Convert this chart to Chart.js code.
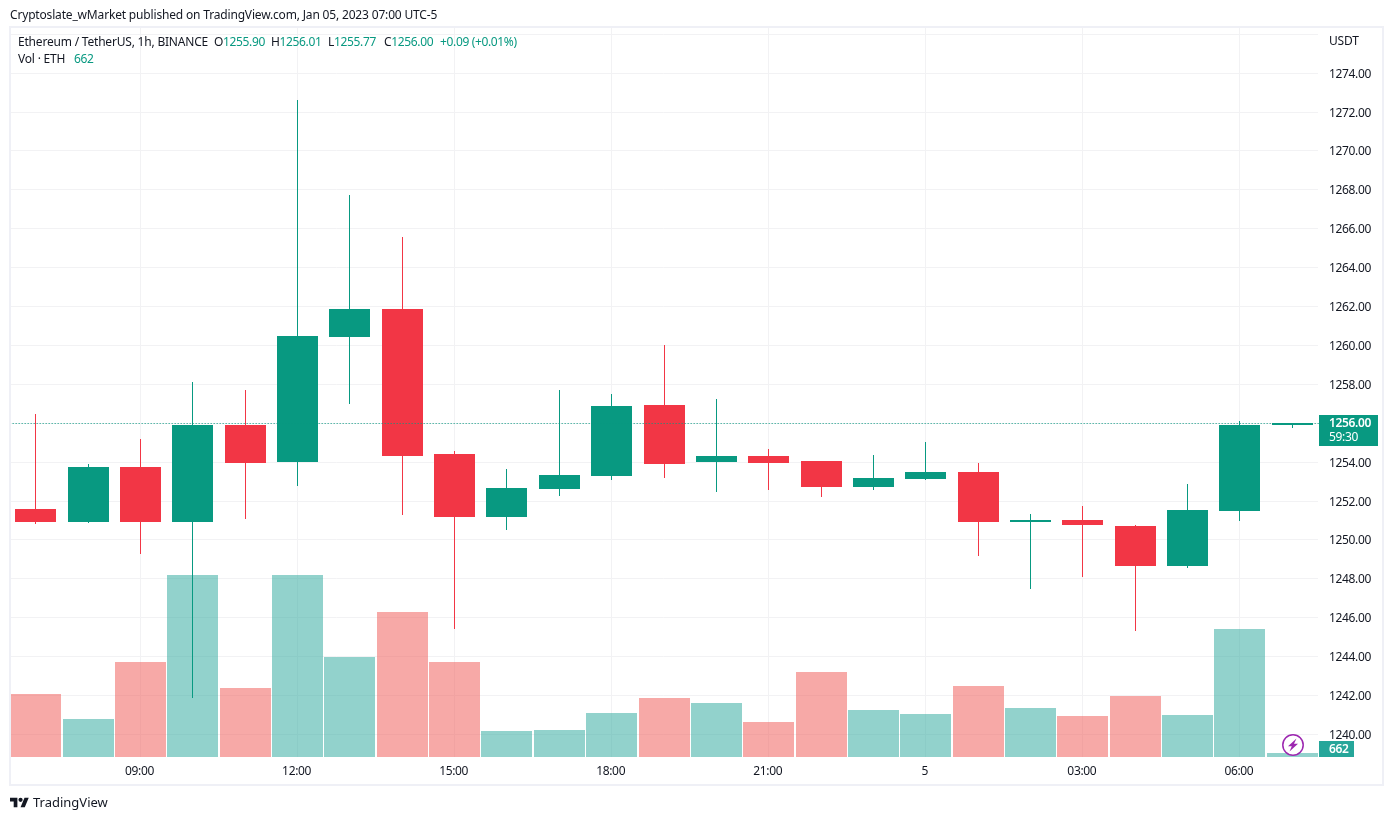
<!DOCTYPE html>
<html>
<head>
<meta charset="utf-8">
<title>ETHUSDT 1h</title>
<script src="https://cdn.jsdelivr.net/npm/chart.js@4"></script>
<style>
  html, body { margin: 0; padding: 0; background: #fff; }
  body { width: 1393px; height: 820px; position: relative; overflow: hidden;
         font-family: "Noto Sans", sans-serif; font-size: 12px; color: #131722; }
  canvas { position: absolute; left: 0; top: 0; }
  .txt { position: absolute; white-space: nowrap; line-height: 16px; letter-spacing: -0.2px; }
  .num { letter-spacing: -0.35px; }
  .val { color: #089981; }
  #frame { position: absolute; left: 9px; top: 26px; width: 1371px; height: 756px;
           border: 2px solid #eff0f6; pointer-events: none; }
</style>
</head>
<body>
<canvas id="chart" width="1393" height="820"></canvas>
<div id="frame"></div>
<div class="txt" style="left:10px;top:7px;letter-spacing:-0.17px">Cryptoslate_wMarket published on TradingView.com, Jan 05, 2023 07:00 UTC-5</div>
<div class="txt" style="left:18px;top:34px">Ethereum / TetherUS, 1h, BINANCE</div>
<div class="txt num" style="left:214px;top:34px">O<span class="val">1255.90</span></div>
<div class="txt num" style="left:271px;top:34px">H<span class="val">1256.01</span></div>
<div class="txt num" style="left:328px;top:34px">L<span class="val">1255.77</span></div>
<div class="txt num" style="left:384px;top:34px">C<span class="val">1256.00</span></div>
<div class="txt num val" style="left:440px;top:34px">+0.09 (+0.01%)</div>
<div class="txt" style="left:18px;top:51px">Vol · ETH</div>
<div class="txt num val" style="left:74px;top:51px">662</div>
<div class="txt" style="left:1329px;top:33px">USDT</div>
<svg style="position:absolute;left:10px;top:797px" width="19" height="11" viewBox="0 3.5 36 19"><path fill="#131722" d="M14 22H7V11H0V4h14v18zM28 22h-8l7.5-18h8L28 22z"/><circle fill="#131722" cx="20" cy="8" r="4"/></svg>
<div class="txt" style="left:33px;top:794px;font-size:13px;letter-spacing:0">TradingView</div>
<svg style="position:absolute;left:1281px;top:733px" width="24" height="24" viewBox="0 0 24 24"><circle cx="12" cy="12" r="10.2" fill="#fff" stroke="#9c27b0" stroke-width="1.5"/><path fill="#9c27b0" d="M15.5 5.5 7 13.2h3.8l-2.3 5.3L17 10.8h-4z"/></svg>

<script>
  const categories = ["07:00", "08:00", "09:00", "10:00", "11:00", "12:00", "13:00", "14:00", "15:00", "16:00", "17:00", "18:00", "19:00", "20:00", "21:00", "22:00", "23:00", "5", "01:00", "02:00", "03:00", "04:00", "05:00", "06:00", "07:00 "];
  const xTickLabels = ["09:00", "12:00", "15:00", "18:00", "21:00", "5", "03:00", "06:00"];

  const opens = [1251.6, 1250.9, 1253.75, 1250.9, 1255.9, 1254.0, 1260.45, 1261.9, 1254.4, 1251.2, 1252.6, 1253.3, 1256.95, 1254.0, 1254.3, 1254.05, 1252.7, 1253.15, 1253.5, 1250.95, 1251.05, 1250.7, 1248.65, 1251.5, 1255.9];
  const highs = [1256.5, 1253.9, 1255.2, 1258.1, 1257.7, 1272.6, 1267.75, 1265.6, 1254.6, 1253.65, 1257.7, 1257.5, 1260.0, 1257.25, 1254.7, 1254.05, 1254.35, 1255.05, 1253.95, 1251.35, 1251.75, 1250.75, 1252.9, 1256.1, 1256.01];
  const lows = [1250.8, 1250.85, 1249.3, 1241.9, 1251.1, 1252.8, 1257.0, 1251.3, 1245.4, 1250.5, 1252.25, 1253.1, 1253.2, 1252.45, 1252.55, 1252.2, 1252.55, 1253.1, 1249.2, 1247.5, 1248.1, 1245.3, 1248.55, 1251.0, 1255.77];
  const closes = [1250.9, 1253.75, 1250.9, 1255.9, 1253.95, 1260.5, 1261.9, 1254.3, 1251.2, 1252.65, 1253.35, 1256.9, 1253.9, 1254.3, 1253.95, 1252.7, 1253.2, 1253.5, 1250.9, 1251.05, 1250.75, 1248.65, 1251.55, 1255.9, 1256.0];
  const volumes = [10400, 6270, 15700, 30000, 11400, 30000, 16500, 23900, 15700, 4300, 4450, 7260, 9700, 8900, 5780, 14000, 7750, 7100, 11700, 8100, 6770, 10060, 6930, 21100, 662];

  const countdown = "59:30";
  const UP = "#089981";
  const DOWN = "#f23645";
  const GRID = "#f2f2f4";
  const FONT = '"Noto Sans", sans-serif';

  const isUp = (i) => closes[i] >= opens[i];

  // snap the bars to whole pixels, otherwise 1px wicks come out blurry
  const snapBars = {
    id: "snapBars",
    beforeDraw(chart) {
      chart.ctx.letterSpacing = "-0.35px"; // the tick font runs a bit wide
    },
    beforeDatasetsDraw(chart) {
      chart.getSortedVisibleDatasetMetas().forEach((meta) => {
        meta.data.forEach((el) => {
          const l = Math.round(el.x - el.width / 2);
          const r = Math.round(el.x + el.width / 2);
          el.x = (l + r) / 2;
          el.width = Math.max(r - l, 1);
          el.y = Math.round(el.y);
          el.base = Math.round(el.base);
        });
      });
    },
  };

  // last price line and the two labels on the right
  const lastPrice = {
    id: "lastPrice",
    afterDraw(chart) {
      const { ctx, chartArea } = chart;
      const n = closes.length - 1;
      const y = Math.round(chart.scales.y.getPixelForValue(closes[n]));

      ctx.save();
      ctx.strokeStyle = UP;
      ctx.setLineDash([1, 2]);
      ctx.beginPath();
      ctx.moveTo(chartArea.left, y + 0.5);
      ctx.lineTo(1319, y + 0.5);
      ctx.stroke();
      ctx.setLineDash([]);

      ctx.fillStyle = UP;
      ctx.fillRect(1319, 415, 59, 31);
      ctx.fillStyle = "#fff";
      ctx.font = "600 12px " + FONT;
      ctx.textBaseline = "middle";
      ctx.fillText(closes[n].toFixed(2), 1329, 424);
      ctx.font = "12px " + FONT;
      ctx.fillText(countdown, 1329, 438);

      ctx.fillStyle = "#26a69a";
      ctx.fillRect(1319, 741, 35, 16);
      ctx.fillStyle = "#fff";
      ctx.font = "600 12px " + FONT;
      ctx.fillText(String(volumes[n]), 1329, 750);
      ctx.restore();
    },
  };

  new Chart(document.getElementById("chart"), {
    type: "bar",
    plugins: [snapBars, lastPrice],
    data: {
      labels: categories,
      datasets: [
        {
          label: "Body",
          data: opens.map((o, i) => [o, closes[i]]),
          backgroundColor: opens.map((o, i) => (isUp(i) ? UP : DOWN)),
          barThickness: 41,
          inflateAmount: 0,
          yAxisID: "y",
          grouped: false,
          order: 1,
        },
        {
          label: "Wick",
          data: lows.map((l, i) => [l, highs[i]]),
          backgroundColor: lows.map((l, i) => (isUp(i) ? UP : DOWN)),
          barThickness: 1,
          inflateAmount: 0,
          yAxisID: "y",
          grouped: false,
          order: 2,
        },
        {
          label: "Vol",
          data: volumes,
          backgroundColor: volumes.map((v, i) => (isUp(i) ? "rgba(38,166,154,0.5)" : "rgba(239,83,80,0.5)")),
          barThickness: 51,
          inflateAmount: 0,
          yAxisID: "vol",
          grouped: false,
          order: 3,
        },
      ],
    },
    options: {
      responsive: false,
      animation: false,
      layout: { padding: { left: 9.655, top: 27, right: 10, bottom: 36 } },
      plugins: { legend: { display: false }, tooltip: { enabled: false } },
      scales: {
        x: {
          grid: { color: GRID, offset: false, drawTicks: false },
          border: { display: false },
          afterBuildTicks(scale) {
            scale.ticks = scale.ticks.filter((t) => xTickLabels.includes(categories[t.value]));
          },
          afterFit(scale) {
            scale.height = 27;
          },
          ticks: {
            autoSkip: false,
            maxRotation: 0,
            padding: 7,
            labelOffset: -1,
            color: "#131722",
            font: { family: FONT, size: 12 },
          },
        },
        y: {
          position: "right",
          min: 1238.843,
          max: 1276.375,
          grid: { color: GRID, drawTicks: false },
          border: { display: false },
          afterFit(scale) {
            scale.width = 64.595;
          },
          ticks: {
            stepSize: 2,
            includeBounds: false,
            padding: 10.6,
            labelOffset: 1,
            color: "#131722",
            font: { family: FONT, size: 12 },
            callback: (v) => (v >= 1276 ? "" : v.toFixed(2)), // USDT sits there instead
          },
        },
        vol: {
          display: false,
          min: 0,
          max: 120450,
        },
      },
    },
  });
</script>
</body>
</html>
